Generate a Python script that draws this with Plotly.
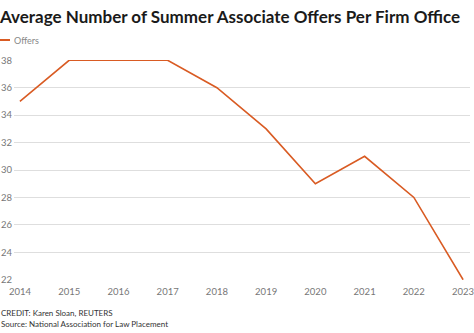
import plotly.graph_objects as go

years = [2014, 2015, 2016, 2017, 2018, 2019, 2020, 2021, 2022, 2023]
offers = [35, 38, 38, 38, 36, 33, 29, 31, 28, 22]
series_name = "Offers"
y_ticks = [22, 24, 26, 28, 30, 32, 34, 36, 38]
title_text = "Average Number of Summer Associate Offers Per Firm Office"
credit_text = "CREDIT: Karen Sloan, REUTERS"
source_text = "Source: National Association for Law Placement"

W, H = 474, 333
L, R, T, B = 14, 4, 60, 53
pw, ph = W - L - R, H - T - B
color = "#d95b23"
font = "Lato"

def px_x(p):
    return (p - L) / pw

def px_y(p):
    return (H - B - p) / ph

fig = go.Figure()
fig.add_trace(go.Scatter(x=years, y=offers, mode="lines", name=series_name,
                         line=dict(color=color, width=1.6), showlegend=False))

fig.update_layout(
    width=W, height=H,
    margin=dict(l=L, r=R, t=T, b=B),
    paper_bgcolor="white", plot_bgcolor="white",
    font=dict(family=font, color="#666"),
    title=dict(text="<b>" + title_text + "</b>", xref="container", yref="container",
               x=0, xanchor="left", y=1 - 17 / H, yanchor="middle",
               font=dict(size=17, color="#1a1a1a", family=font)),
    xaxis=dict(range=[2013.88, 2023.14], tickvals=years, showgrid=False,
               zeroline=False, showline=False, ticks="", automargin=False,
               tickfont=dict(size=9.5, color="#777"), ticklabelstandoff=4,
               ticklabeloverflow="allow"),
    yaxis=dict(range=[21.98, 38.02], tickvals=y_ticks, showgrid=True,
               gridcolor="#dedede", gridwidth=1, zeroline=False, showline=False,
               ticks="", automargin=False, tickfont=dict(size=9.5, color="#777"),
               ticklabelstandoff=1, ticklabeloverflow="allow"),
)

# legend
fig.add_shape(type="line", xref="paper", yref="paper",
              x0=px_x(0), x1=px_x(10), y0=px_y(40), y1=px_y(40),
              line=dict(color=color, width=2))
fig.add_annotation(text=series_name, xref="paper", yref="paper",
                   x=px_x(12), y=px_y(40), xanchor="left", yanchor="middle",
                   showarrow=False, font=dict(size=9, color="#888"))

fig.add_annotation(text=credit_text, xref="paper", yref="paper",
                   x=px_x(-1), y=px_y(313), xanchor="left", yanchor="middle",
                   showarrow=False, font=dict(size=8, color="#333"))
fig.add_annotation(text=source_text, xref="paper", yref="paper",
                   x=px_x(-1), y=px_y(324), xanchor="left", yanchor="middle",
                   showarrow=False, font=dict(size=8, color="#333"))

fig.write_html("out.html")
